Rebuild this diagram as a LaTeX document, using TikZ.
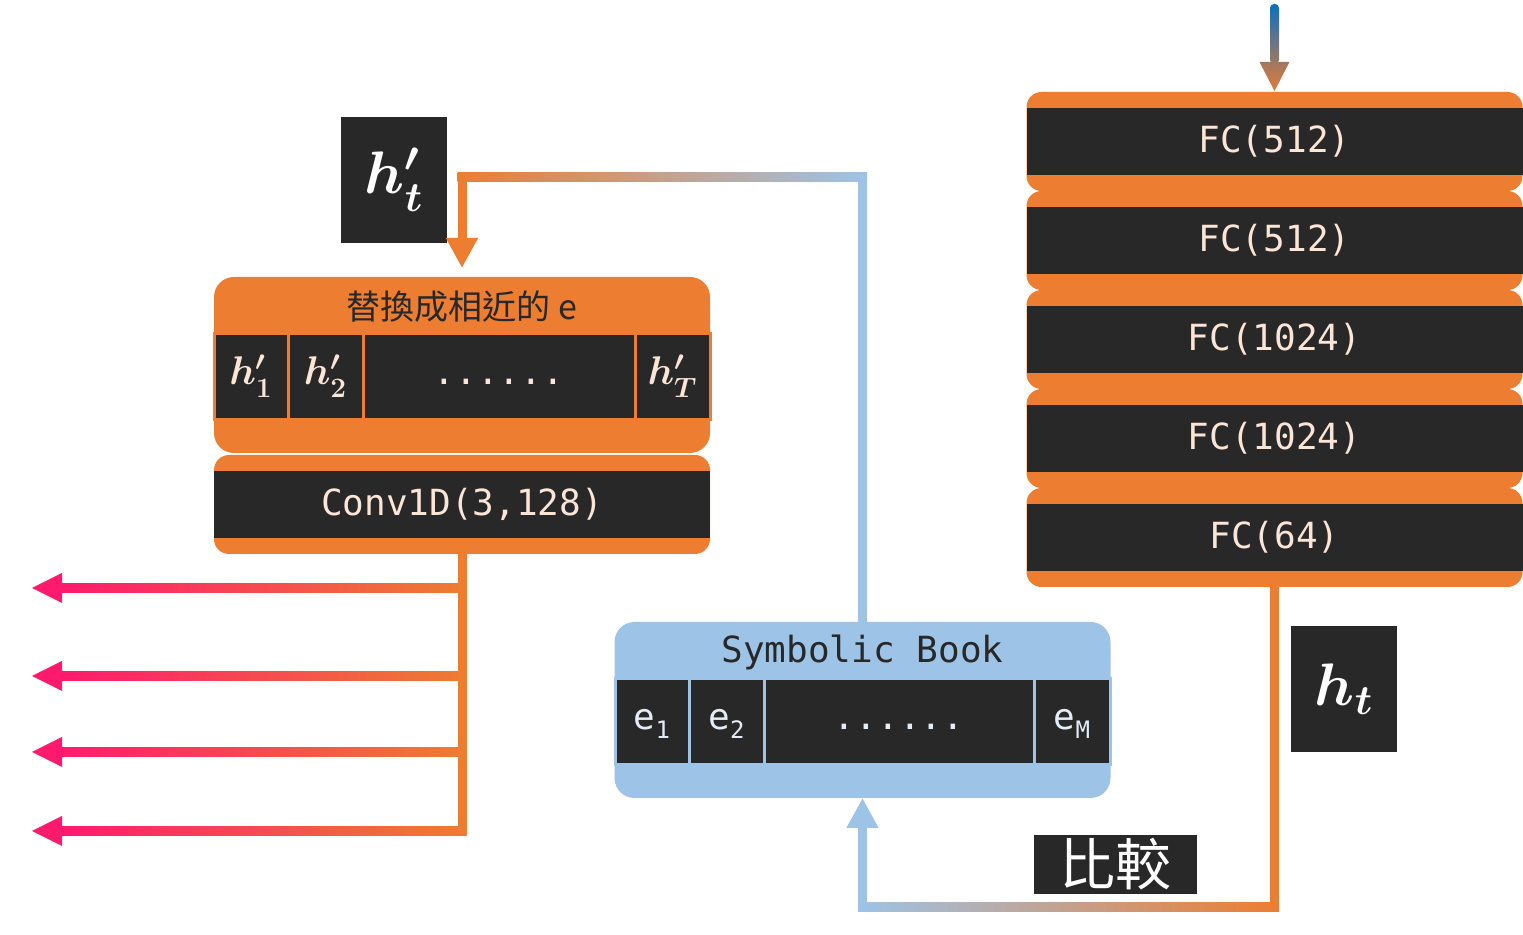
\documentclass[tikz,border=0pt]{standalone}
\usepackage{fix-cm}
\usepackage{fontspec}
\setmonofont{DejaVu Sans Mono}
\newfontfamily\cjk{Noto Sans CJK TC}
\usepackage{tikz}
\usetikzlibrary{positioning,arrows.meta,calc}

\definecolor{layerorange}{HTML}{ED7D31}
\definecolor{bandgray}{HTML}{282828}
\definecolor{bookblue}{HTML}{9DC3E6}
\definecolor{creamtext}{HTML}{FBE5D6}
\definecolor{celltext}{HTML}{E4EDF6}
\definecolor{outpink}{HTML}{FF1A6E}
\definecolor{inblue}{HTML}{0A6FC2}
\definecolor{inbrown}{HTML}{A07860}

\newcommand{\monosub}[1]{\raisebox{-4.5pt}{\fontsize{12}{12}\selectfont #1}}

\tikzset{
    layer-box/.style = {fill=layerorange, rounded corners=7.5pt, minimum width=248pt, minimum height=49.5pt, inner sep=0pt, outer sep=0pt},
    layer-band/.style = {fill=bandgray, minimum width=248pt, minimum height=33.5pt, inner sep=0pt, text=creamtext, font=\ttfamily\fontsize{18}{20}\selectfont},
    holder-box/.style = {rounded corners=10pt, minimum width=248pt, minimum height=88pt, inner sep=0pt, outer sep=0pt},
    cell-box/.style = {fill=bandgray, line width=1.5pt, minimum height=43pt, inner sep=0pt, outer sep=0pt, text height=12pt, text depth=4pt},
    tag-box/.style = {fill=bandgray, text=white, minimum width=53pt, minimum height=63pt, inner sep=0pt},
    wire/.style = {line width=4.5pt},
}

\begin{document}
\begin{tikzpicture}[x=0.5pt, y=-0.5pt, >={Triangle[width=15pt,length=15pt]}]
\useasboundingbox (0,0) rectangle (1523,935);

% FC stack on the right
\foreach \units [count=\i] in {512,512,1024,1024,64} {
    \node[layer-box] (fc\i) at (1274.5, {42.5+99*\i}) {};
    \node[layer-band] at (fc\i) {FC(\units)};
}

% replace block and conv layer
\node[holder-box, fill=layerorange] (swap) at (462,365) {};
\node[font=\cjk\fontsize{17}{19}\selectfont, text=bandgray] at (462,307) {替換成相近的 e};
\node[cell-box, draw=layerorange, text=creamtext, font=\fontsize{20}{24}\selectfont\boldmath, minimum width=37pt, anchor=west] (h1) at (214,377) {$h'_1$};
\node[cell-box, draw=layerorange, text=creamtext, font=\fontsize{20}{24}\selectfont\boldmath, minimum width=37.5pt, right=0pt of h1] (h2) {$h'_2$};
\node[cell-box, draw=layerorange, text=creamtext, font=\ttfamily\fontsize{18}{20}\selectfont, minimum width=136pt, right=0pt of h2] (hdots) {......};
\node[cell-box, draw=layerorange, text=creamtext, font=\fontsize{20}{24}\selectfont\boldmath, minimum width=37.5pt, right=0pt of hdots] (hT) {$h'_T$};
\node[layer-box, below=1pt of swap] (conv) {};
\node[layer-band] at (conv) {Conv1D(3,128)};

% symbolic book
\node[holder-box, fill=bookblue] (book) at (862.5,710) {};
\node[font=\ttfamily\fontsize{18}{20}\selectfont, text=bandgray] at (862.5,652) {Symbolic Book};
\node[cell-box, draw=bookblue, text=celltext, font=\ttfamily\fontsize{18}{20}\selectfont, minimum width=37pt, anchor=west] (e1) at (615,721.5) {e\monosub{1}};
\node[cell-box, draw=bookblue, text=celltext, font=\ttfamily\fontsize{18}{20}\selectfont, minimum width=37.5pt, right=0pt of e1] (e2) {e\monosub{2}};
\node[cell-box, draw=bookblue, text=celltext, font=\ttfamily\fontsize{18}{20}\selectfont, minimum width=135pt, right=0pt of e2] (edots) {......};
\node[cell-box, draw=bookblue, text=celltext, font=\ttfamily\fontsize{18}{20}\selectfont, minimum width=38pt, right=0pt of edots] (eM) {e\monosub{M}};

% tags
\node[tag-box, font=\fontsize{30}{36}\selectfont\boldmath] (htp) at (394,180) {$h'_t$};
\node[tag-box, font=\fontsize{30}{36}\selectfont\boldmath] (ht) at (1344,689) {$h_t$};
\node[tag-box, minimum width=81.5pt, minimum height=29.5pt, font=\cjk\fontsize{28}{30}\selectfont] (cmp) at (1115.5,864.5) {比較};

% input arrow
\coordinate (feat-in) at ($(fc1.north)+(0,-88)$);
\shade[top color=inblue, bottom color=inbrown, rounded corners=2pt] ($(feat-in)+(-4.5,0)$) rectangle ($(fc1.north)+(4.5,-28)$);
\shade[top color=inbrown, bottom color=layerorange!85!inbrown] ($(fc1.north)+(-15,-30)$) -- ($(fc1.north)+(15,-30)$) -- ($(fc1.north)+(0,-1)$) -- cycle;

% book back to the replace block
\coordinate (book-up) at (862.5,177);
\coordinate (swap-up) at (462,177);
\draw[wire, bookblue] (book.north) -- (book-up);
\shade[left color=layerorange, right color=bookblue] ($(swap-up)+(-4.5,-4.5)$) rectangle ($(book-up)+(4.5,4.5)$);
\draw[wire, layerorange, ->, shorten >=4.5pt] (swap-up) -- (swap.north);

% compare h_t with the book
\coordinate (cmp-right) at (1274.5,907);
\coordinate (cmp-left) at (862.5,907);
\draw[wire, layerorange] (fc5.south) -- (cmp-right);
\shade[left color=bookblue, right color=layerorange] ($(cmp-left)+(-4.5,-4.5)$) rectangle ($(cmp-right)+(4.5,4.5)$);
\draw[wire, bookblue, ->] (cmp-left) -- (book.south);

% outputs
\foreach \y [count=\i] in {588,676,752,831} {
    \coordinate (out\i) at (32,\y);
    \coordinate (tap\i) at (462,\y);
    \shade[left color=outpink, right color=layerorange] ($(out\i)+(28,-4.5)$) rectangle ($(tap\i)+(4.5,4.5)$);
    \fill[outpink] (out\i) -- ++(30,-15) -- ++(0,30) -- cycle;
}
\draw[wire, layerorange] (conv.south) -- (tap4);
\end{tikzpicture}
\end{document}
